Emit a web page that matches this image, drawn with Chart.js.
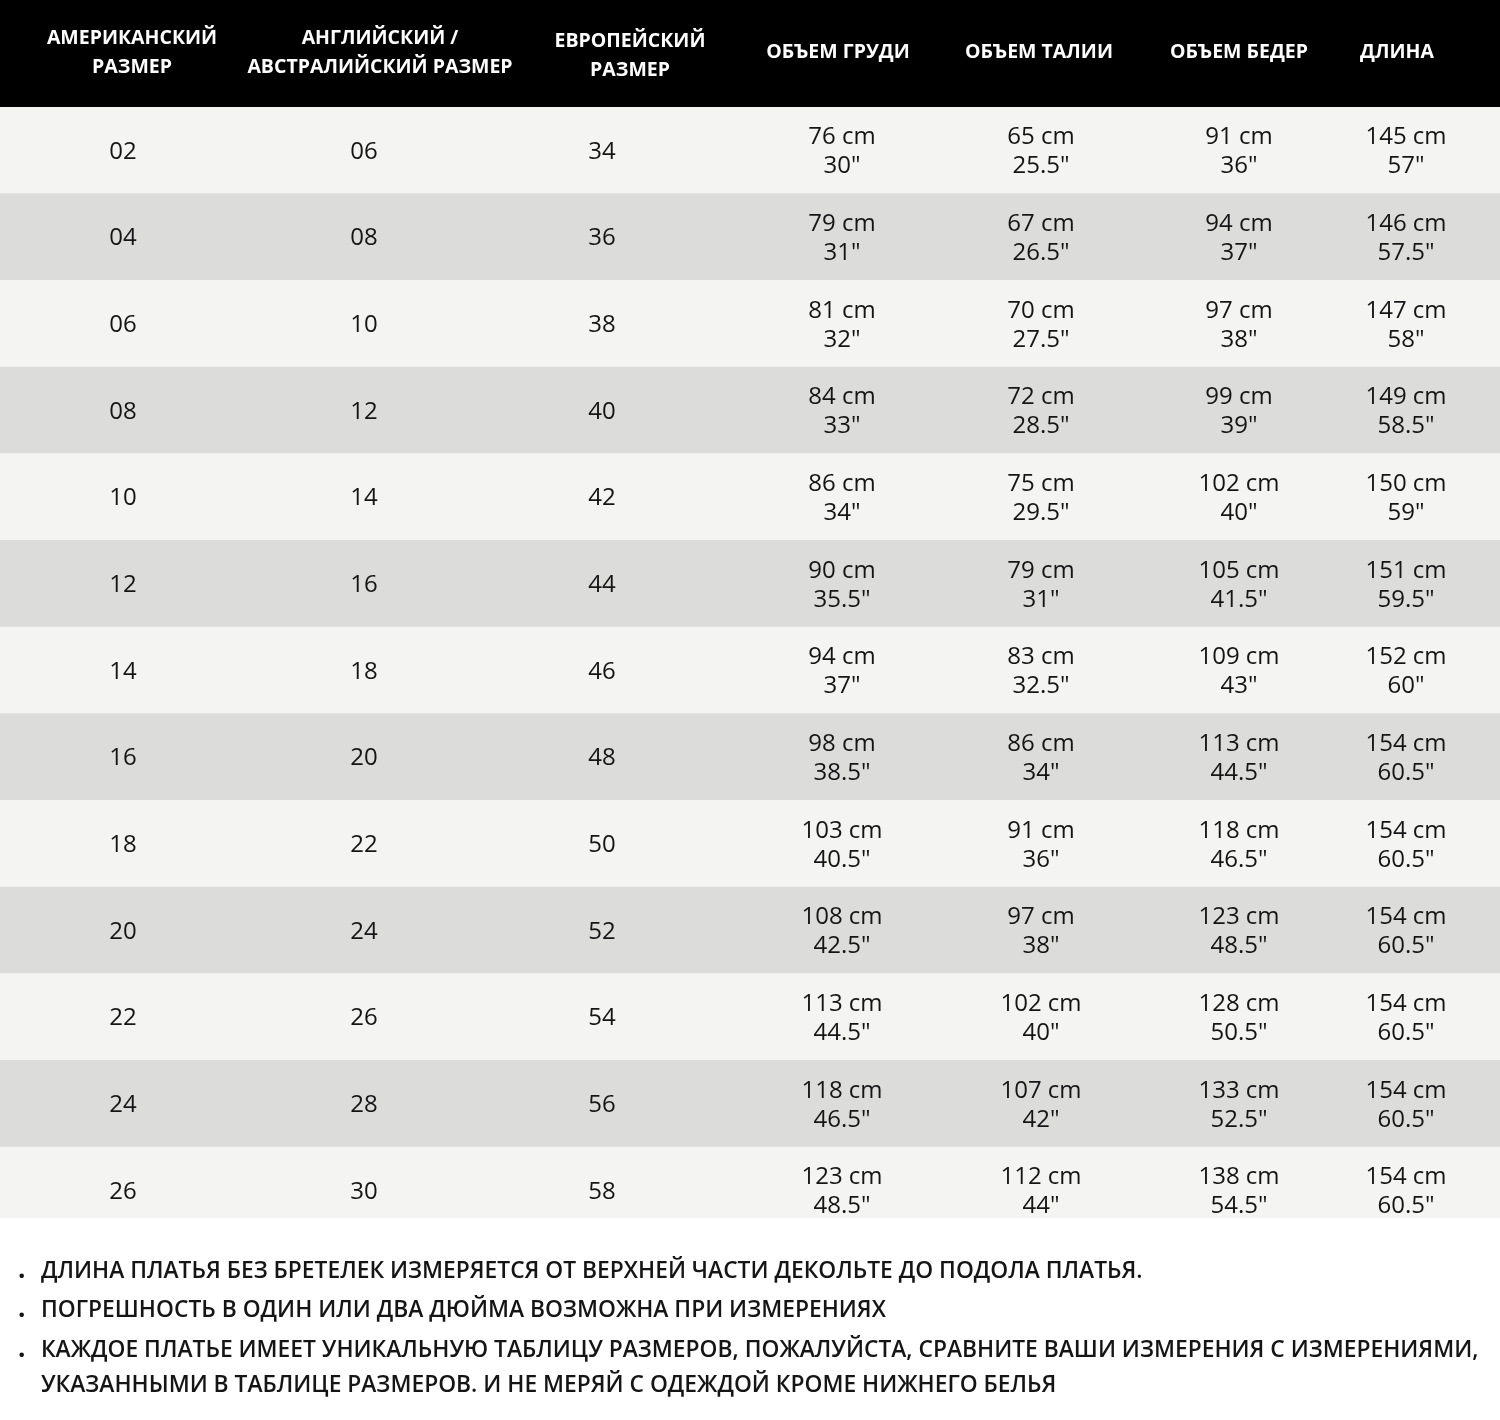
<!DOCTYPE html>
<html lang="ru">
<head>
<meta charset="utf-8">
<title>Таблица размеров</title>
<script src="https://cdn.jsdelivr.net/npm/chart.js@4.4.0/dist/chart.umd.min.js"></script>
<style>
    html, body { margin: 0; padding: 0; background: #ffffff; }
    #wrap { position: relative; width: 1500px; height: 1420px; }
</style>
</head>
<body>
<div id="wrap"><canvas id="sizeChart"></canvas></div>
<script>
// table data
const usSizes = ['02', '04', '06', '08', '10', '12', '14', '16', '18', '20', '22', '24', '26'];
const ukSizes = ['06', '08', '10', '12', '14', '16', '18', '20', '22', '24', '26', '28', '30'];
const euSizes = ['34', '36', '38', '40', '42', '44', '46', '48', '50', '52', '54', '56', '58'];
const bustCm = [76, 79, 81, 84, 86, 90, 94, 98, 103, 108, 113, 118, 123];
const bustIn = [30, 31, 32, 33, 34, 35.5, 37, 38.5, 40.5, 42.5, 44.5, 46.5, 48.5];
const waistCm = [65, 67, 70, 72, 75, 79, 83, 86, 91, 97, 102, 107, 112];
const waistIn = [25.5, 26.5, 27.5, 28.5, 29.5, 31, 32.5, 34, 36, 38, 40, 42, 44];
const hipsCm = [91, 94, 97, 99, 102, 105, 109, 113, 118, 123, 128, 133, 138];
const hipsIn = [36, 37, 38, 39, 40, 41.5, 43, 44.5, 46.5, 48.5, 50.5, 52.5, 54.5];
const lengthCm = [145, 146, 147, 149, 150, 151, 152, 154, 154, 154, 154, 154, 154];
const lengthIn = [57, 57.5, 58, 58.5, 59, 59.5, 60, 60.5, 60.5, 60.5, 60.5, 60.5, 60.5];

const headers = [
    ['АМЕРИКАНСКИЙ', 'РАЗМЕР'],
    ['АНГЛИЙСКИЙ /', 'АВСТРАЛИЙСКИЙ РАЗМЕР'],
    ['ЕВРОПЕЙСКИЙ', 'РАЗМЕР'],
    ['ОБЪЕМ ГРУДИ'],
    ['ОБЪЕМ ТАЛИИ'],
    ['ОБЪЕМ БЕДЕР'],
    ['ДЛИНА']
];

const notes = [
    ['ДЛИНА ПЛАТЬЯ БЕЗ БРЕТЕЛЕК ИЗМЕРЯЕТСЯ ОТ ВЕРХНЕЙ ЧАСТИ ДЕКОЛЬТЕ ДО ПОДОЛА ПЛАТЬЯ.'],
    ['ПОГРЕШНОСТЬ В ОДИН ИЛИ ДВА ДЮЙМА ВОЗМОЖНА ПРИ ИЗМЕРЕНИЯХ'],
    ['КАЖДОЕ ПЛАТЬЕ ИМЕЕТ УНИКАЛЬНУЮ ТАБЛИЦУ РАЗМЕРОВ, ПОЖАЛУЙСТА, СРАВНИТЕ ВАШИ ИЗМЕРЕНИЯ С ИЗМЕРЕНИЯМИ,',
     'УКАЗАННЫМИ В ТАБЛИЦЕ РАЗМЕРОВ. И НЕ МЕРЯЙ С ОДЕЖДОЙ КРОМЕ НИЖНЕГО БЕЛЬЯ']
];

// layout (x positions in the 0..1500 units of the x scale)
const WIDTH = 1500;
const HEADER_H = 107;
const TABLE_BOTTOM = 1218;
const colX = [123, 364, 602, 842, 1041, 1239, 1406];
const headX = [132, 380, 630, 838, 1039, 1239, 1397];
const headDy = [0, 0, 3, 0, 0, 0, 0];

const cm = v => v + ' cm';
const inch = v => v + '"';

const cellText = (i) => [
    [usSizes[i]],
    [ukSizes[i]],
    [euSizes[i]],
    [cm(bustCm[i]), inch(bustIn[i])],
    [cm(waistCm[i]), inch(waistIn[i])],
    [cm(hipsCm[i]), inch(hipsIn[i])],
    [cm(lengthCm[i]), inch(lengthIn[i])]
];

const tablePlugin = {
    id: 'tablePlugin',
    beforeDatasetsDraw(chart) {
        const {ctx, chartArea} = chart;
        ctx.save();
        ctx.beginPath();
        ctx.rect(chartArea.left, chartArea.top, chartArea.right - chartArea.left, TABLE_BOTTOM - chartArea.top);
        ctx.clip();
    },
    afterDatasetsDraw(chart) {
        const {ctx, chartArea, scales} = chart;
        const x = scales.x;
        const y = scales.y;
        ctx.restore();

        // header band
        ctx.save();
        ctx.fillStyle = '#000000';
        ctx.fillRect(0, 0, chart.width, chartArea.top);
        ctx.fillStyle = '#ffffff';
        ctx.font = '700 19.5px "Open Sans"';
        ctx.textAlign = 'center';
        ctx.textBaseline = 'middle';
        const headMid = chartArea.top / 2;
        headers.forEach((lines, c) => {
            const px = x.getPixelForValue(headX[c]);
            lines.forEach((t, k) => {
                const off = (k - (lines.length - 1) / 2) * 29;
                ctx.fillText(t, px, headMid - 1 + off + headDy[c]);
            });
        });
        ctx.restore();

        // cells
        ctx.save();
        ctx.fillStyle = '#151515';
        ctx.font = '400 24px "Open Sans"';
        ctx.textAlign = 'center';
        ctx.textBaseline = 'middle';
        usSizes.forEach((s, i) => {
            const py = y.getPixelForValue(i) + 1.5;
            cellText(i).forEach((lines, c) => {
                const px = x.getPixelForValue(colX[c]);
                lines.forEach((t, k) => {
                    const off = (k - (lines.length - 1) / 2) * 29;
                    ctx.fillText(t, px, py + off);
                });
            });
        });
        ctx.restore();

        // notes under the table
        ctx.save();
        ctx.fillStyle = '#151515';
        ctx.textAlign = 'left';
        ctx.textBaseline = 'middle';
        let ny = 1271.5;
        notes.forEach((lines) => {
            lines.forEach((t, k) => {
                if (k === 0) {
                    ctx.font = '700 26px "Open Sans"';
                    ctx.fillText('.', 18, ny - 1);
                }
                ctx.font = '600 22.8px "Open Sans"';
                ctx.fillText(t, 41, ny);
                ny += k < lines.length - 1 ? 35 : 39.5;
            });
        });
        ctx.restore();
    }
};

const stripeColors = usSizes.map((s, i) => i % 2 === 0 ? '#f4f4f2' : '#dcdddb');

const ctx = document.getElementById('sizeChart').getContext('2d');

const sizeChart = new Chart(ctx, {
    type: 'bar',
    data: {
        labels: usSizes,
        datasets: [
            {
                label: 'rows',
                data: usSizes.map(() => [0, WIDTH]),
                backgroundColor: stripeColors,
                borderWidth: 0,
                barPercentage: 1,
                categoryPercentage: 1
            }
        ]
    },
    options: {
        indexAxis: 'y',
        responsive: true,
        maintainAspectRatio: false,
        animation: false,
        layout: {
            padding: {
                top: HEADER_H,
                bottom: 1420 - HEADER_H - 13 * 86.67,
                left: 0,
                right: 0
            }
        },
        plugins: {
            legend: { display: false },
            title: { display: false },
            tooltip: { enabled: false }
        },
        scales: {
            x: {
                type: 'linear',
                min: 0,
                max: WIDTH,
                display: false
            },
            y: {
                type: 'category',
                display: false,
                offset: true
            }
        }
    },
    plugins: [tablePlugin]
});
</script>
</body>
</html>
